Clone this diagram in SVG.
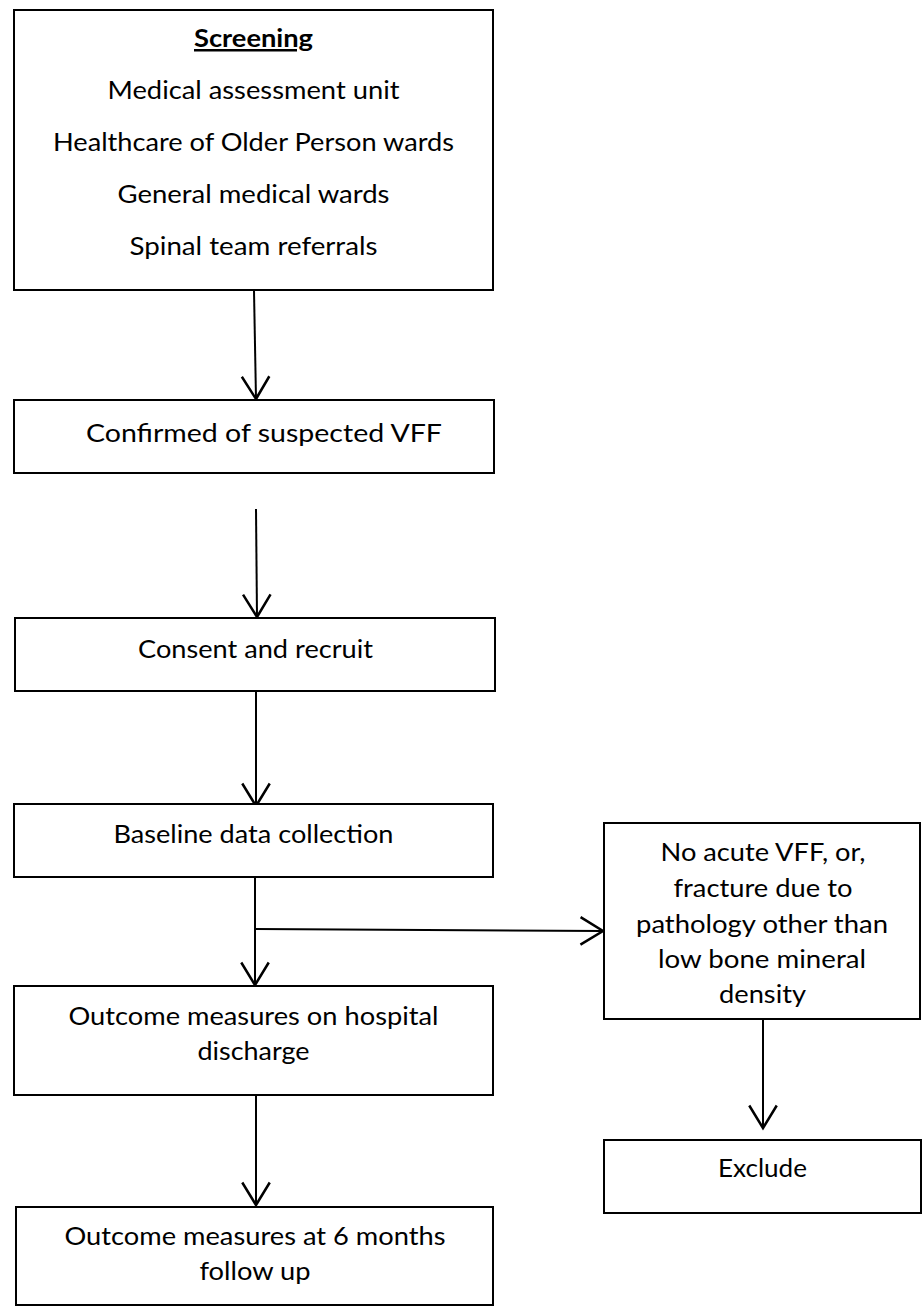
<svg xmlns="http://www.w3.org/2000/svg" width="924" height="1308" viewBox="0 0 924 1308">
<style>
.box{fill:#fff;stroke:#000;stroke-width:2}
.t{font-family:Lato,"Open Sans","Liberation Sans",sans-serif;font-size:25px;fill:#000;text-anchor:middle}
.b{font-weight:bold;text-decoration:underline}
.c{fill:none;stroke:#000;stroke-width:2}
</style>
<defs>
<marker id="ah" markerUnits="userSpaceOnUse" markerWidth="30" markerHeight="30" viewBox="-20 -12 22 24" refX="0" refY="0" orient="auto" overflow="visible">
<path d="M-18,-11 L0,0 L-18,11" fill="none" stroke="#000" stroke-width="2"/>
</marker>
</defs>
<rect width="924" height="1308" fill="#fff"/>
<g id="connectors">
<path class="c" d="M254,291 L256,399" marker-end="url(#ah)"/>
<path class="c" d="M256,509 L257,617" marker-end="url(#ah)"/>
<path class="c" d="M256,691 L256,806" marker-end="url(#ah)"/>
<path class="c" d="M255,877 L255,985" marker-end="url(#ah)"/>
<path class="c" d="M256,929 L603,931" marker-end="url(#ah)"/>
<path class="c" d="M763,1019 L763,1128" marker-end="url(#ah)"/>
<path class="c" d="M256,1095 L256,1205" marker-end="url(#ah)"/>
</g>
<g id="screening">
<rect class="box" x="14" y="10" width="479" height="280"/>
<text class="t b" x="253.5" y="47" textLength="119" lengthAdjust="spacingAndGlyphs">Screening</text>
<text class="t" x="253.5" y="99" textLength="292" lengthAdjust="spacingAndGlyphs">Medical assessment unit</text>
<text class="t" x="253.5" y="151" textLength="401" lengthAdjust="spacingAndGlyphs">Healthcare of Older Person wards</text>
<text class="t" x="253.5" y="203" textLength="272" lengthAdjust="spacingAndGlyphs">General medical wards</text>
<text class="t" x="253.5" y="255" textLength="248" lengthAdjust="spacingAndGlyphs">Spinal team referrals</text>
</g>
<g id="confirmed">
<rect class="box" x="14" y="400" width="480" height="73"/>
<text class="t" x="264" y="442" textLength="356" lengthAdjust="spacingAndGlyphs">Confirmed of suspected VFF</text>
</g>
<g id="consent">
<rect class="box" x="15" y="618" width="480" height="73"/>
<text class="t" x="255.5" y="658" textLength="235" lengthAdjust="spacingAndGlyphs">Consent and recruit</text>
</g>
<g id="baseline">
<rect class="box" x="14" y="804" width="479" height="73"/>
<text class="t" x="253.5" y="843" textLength="280" lengthAdjust="spacingAndGlyphs">Baseline data collection</text>
</g>
<g id="discharge">
<rect class="box" x="14" y="986" width="479" height="109"/>
<text class="t" x="253.5" y="1025" textLength="370" lengthAdjust="spacingAndGlyphs">Outcome measures on hospital</text>
<text class="t" x="253.5" y="1060" textLength="112" lengthAdjust="spacingAndGlyphs">discharge</text>
</g>
<g id="sixmonths">
<rect class="box" x="16" y="1207" width="477" height="98"/>
<text class="t" x="255" y="1245" textLength="381" lengthAdjust="spacingAndGlyphs">Outcome measures at 6 months</text>
<text class="t" x="255" y="1280" textLength="111" lengthAdjust="spacingAndGlyphs">follow up</text>
</g>
<g id="noacute">
<rect class="box" x="604" y="823" width="316" height="196"/>
<text class="t" x="763" y="861" textLength="205" lengthAdjust="spacingAndGlyphs">No acute VFF, or,</text>
<text class="t" x="763" y="897" textLength="179" lengthAdjust="spacingAndGlyphs">fracture due to</text>
<text class="t" x="762" y="933" textLength="252" lengthAdjust="spacingAndGlyphs">pathology other than</text>
<text class="t" x="762" y="968" textLength="208" lengthAdjust="spacingAndGlyphs">low bone mineral</text>
<text class="t" x="762.5" y="1003" textLength="87" lengthAdjust="spacingAndGlyphs">density</text>
</g>
<g id="exclude">
<rect class="box" x="604" y="1140" width="317" height="73"/>
<text class="t" x="762.5" y="1177" textLength="89" lengthAdjust="spacingAndGlyphs">Exclude</text>
</g>
</svg>
